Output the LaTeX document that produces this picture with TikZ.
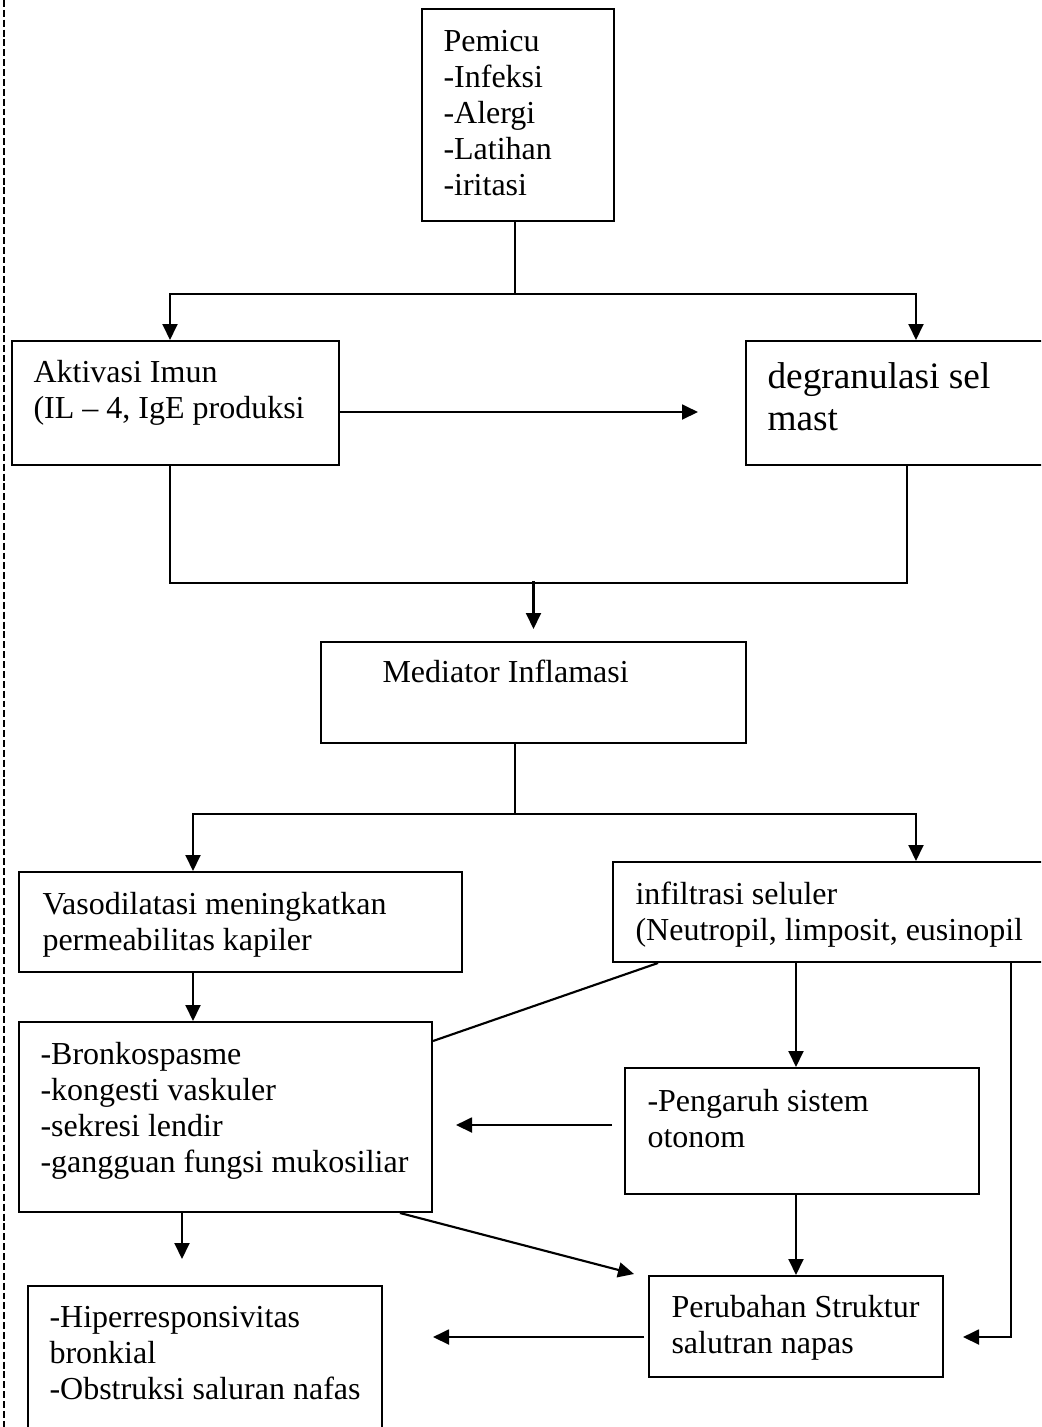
\documentclass[tikz,border=0pt]{standalone}
\usepackage{fontspec}
\setmainfont{Liberation Serif}
\usetikzlibrary{arrows.meta,calc,fit}
\begin{document}
\begin{tikzpicture}[x=0.375pt,y=-0.375pt,
  box/.style={draw, line width=0.75pt, inner sep=0pt, rectangle},
  txt/.style={anchor=base west, align=left, inner sep=0pt, font=\fontsize{12pt}{13.5pt}\selectfont},
  bigtxt/.style={txt, font=\fontsize{14pt}{15.75pt}\selectfont},
  conn/.style={line width=0.8pt},
  arr/.style={conn, -{Triangle[length=6pt,width=5.6pt]}},
  margin/.style={line width=0.5pt, dash pattern=on 2.6pt off 1.1pt},
]
\useasboundingbox (0,0) rectangle (1041,1427);
\clip (0,0) rectangle (1041,1427);

% margin line
\coordinate (mtop) at (4,0);
\coordinate (mbot) at (4,1427);
\draw[margin] (mtop) -- (mbot);

% boxes
\node[box, fit={(422,9) (614,221)}] (pem) {};
\node[box, fit={(12,341) (339,465)}] (ai) {};
\node[box, fit={(746,341) (1086,465)}] (dm) {};
\node[box, fit={(321,642) (746,743)}] (mi) {};
\node[box, fit={(19,872) (462,972)}] (vd) {};
\node[box, fit={(613,862) (1219,962)}] (inf) {};
\node[box, fit={(19,1022) (432,1212)}] (br) {};
\node[box, fit={(625,1068) (979,1194)}] (ps) {};
\node[box, fit={(649,1276) (943,1377)}] (pr) {};
\node[box, fit={(28,1286) (382,1440)}] (hr) {};

% texts (anchored at the baseline of the last line)
\node[txt] (tpem) at (443,195) {Pemicu\\-Infeksi\\-Alergi\\-Latihan\\-iritasi};
\node[txt] (tai) at (33,418) {Aktivasi Imun\\(IL – 4, IgE produksi};
\node[bigtxt] (tdm) at (767,430) {degranulasi sel\\mast};
\node[txt] (tmi) at (382,682) {Mediator Inflamasi};
\node[txt] (tvd) at (42,950) {Vasodilatasi meningkatkan\\permeabilitas kapiler};
\node[txt] (tinf) at (635,940) {infiltrasi seluler\\(Neutropil, limposit, eusinopil};
\node[txt] (tbr) at (40,1172) {-Bronkospasme\\-kongesti vaskuler\\-sekresi lendir\\-gangguan fungsi mukosiliar};
\node[txt] (tps) at (647,1147) {-Pengaruh sistem\\otonom};
\node[txt] (tpr) at (671,1353) {Perubahan Struktur\\salutran napas};
\node[txt] (thr) at (49,1399) {-Hiperresponsivitas\\bronkial\\-Obstruksi saluran nafas};

% connectors
\coordinate (j1) at ($(pem.south)+(-3,72)$);
\draw[conn] ($(pem.south)+(-3,0)$) -- (j1);
\draw[arr] (j1) -| ($(ai.north)+(-5.5,0)$);
\draw[arr] (j1) -| (dm.north);

\draw[arr] ($(ai.east)+(0,9)$) -- ($(dm.west)+(-47,9)$);

\coordinate (j2) at ($(mi.north)+(0,-60)$);
\draw[conn] ($(ai.south)+(-5.5,0)$) |- ($(dm.south)+(-9,117)$) -- ($(dm.south)+(-9,0)$);
\draw[arr] (j2) -- ($(mi.north)+(0,-12)$);

\coordinate (j3) at ($(mi.south)+(-18.5,70)$);
\draw[conn] ($(mi.south)+(-18.5,0)$) -- (j3);
\draw[arr] (j3) -| ($(vd.north)+(-47.5,0)$);
\draw[arr] (j3) -| (inf.north);

\draw[arr] ($(vd.south)+(-47.5,0)$) -- ($(br.north)+(-32.5,0)$);
\draw[conn] ($(inf.south)+(-258,0)$) -- ($(br.north east)+(0,20)$);
\draw[arr] ($(inf.south)+(-120,0)$) -- ($(ps.north)+(-6,0)$);
\draw[arr] ($(ps.west)+(-12,-6)$) -- ($(br.east)+(23,8)$);
\draw[arr] ($(ps.south)+(-6,0)$) -- (pr.north);
\draw[arr] ($(br.south)+(174.5,0)$) -- ($(pr.north west)+(-14,-1)$);
\draw[arr] ($(br.south)+(-43.5,0)$) -- ($(hr.north)+(-23,-26)$);
\draw[arr] ($(pr.west)+(-4,10.5)$) -- ($(hr.east)+(50,-26)$);
\draw[arr] ($(inf.south)+(95,0)$) |- ($(pr.east)+(19,10.5)$);
\end{tikzpicture}
\end{document}
